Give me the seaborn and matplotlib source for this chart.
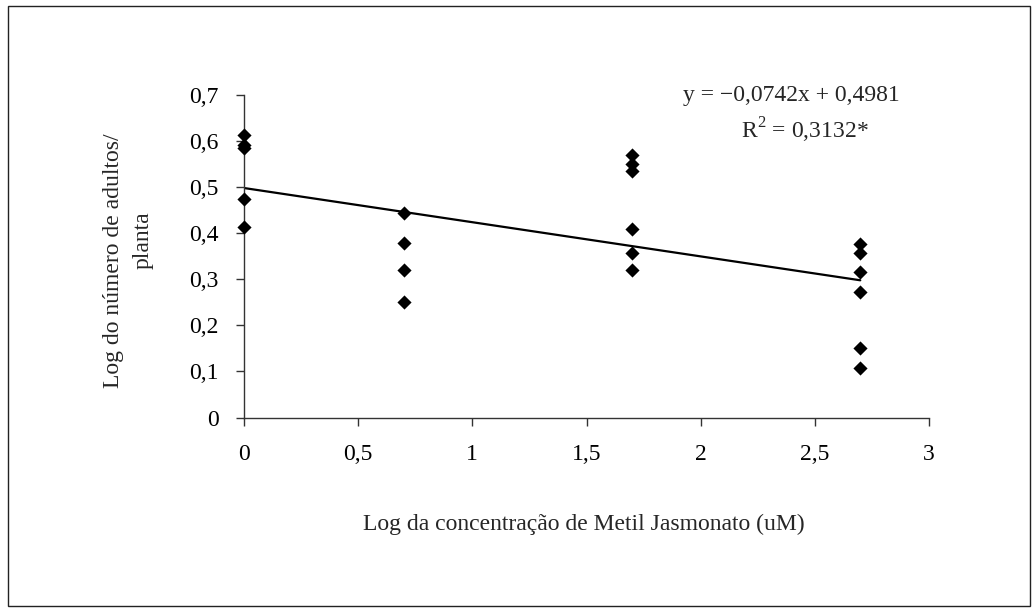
import numpy as np
import pandas as pd
import matplotlib
matplotlib.use("Agg")
import matplotlib.pyplot as plt
from matplotlib.patches import Rectangle
import seaborn as sns

# ---- data ----
x_levels = [0.0, 0.699, 1.699, 2.699]
y_at_0 = [0.613, 0.591, 0.584, 0.475, 0.414]
y_at_07 = [0.444, 0.378, 0.320, 0.251]
y_at_17 = [0.569, 0.551, 0.535, 0.410, 0.357, 0.320]
y_at_27 = [0.376, 0.356, 0.316, 0.273, 0.150, 0.108]
slope = -0.0742
intercept = 0.4981
x_ticks = [0, 0.5, 1, 1.5, 2, 2.5, 3]
x_tick_labels = ["0", "0,5", "1", "1,5", "2", "2,5", "3"]
y_ticks = [0, 0.1, 0.2, 0.3, 0.4, 0.5, 0.6, 0.7]
y_tick_labels = ["0", "0,1", "0,2", "0,3", "0,4", "0,5", "0,6", "0,7"]
eq_text = "y = \u22120,0742x + 0,4981"
r2_text = "R$^2$ = 0,3132*"
x_label = "Log da concentração de Metil Jasmonato (uM)"
y_label_1 = "Log do número de adultos/"
y_label_2 = "planta"

groups = [y_at_0, y_at_07, y_at_17, y_at_27]
xs, ys = [], []
for xv, g in zip(x_levels, groups):
    xs += [xv] * len(g)
    ys += g
df = pd.DataFrame({"x": xs, "y": ys})

fit_x = np.array([min(x_levels), max(x_levels)])
fit_df = pd.DataFrame({"x": fit_x, "y": intercept + slope * fit_x})

sns.set_style("ticks")
plt.rcParams["font.family"] = ["Liberation Serif", "DejaVu Serif"]
plt.rcParams["mathtext.fontset"] = "custom"
plt.rcParams["mathtext.rm"] = "Liberation Serif"

FS = 17
W, H = 1034, 613
fig = plt.figure(figsize=(W / 100, H / 100), dpi=100)
ax = fig.add_axes([244 / W, 1 - 417.5 / H, (929 - 244) / W, (417.5 - 95) / H])

sns.lineplot(data=fit_df, x="x", y="y", ax=ax, color="black", linewidth=1.6)
sns.scatterplot(data=df, x="x", y="y", ax=ax, marker="D", color="black",
                s=52, edgecolor="black", linewidth=0, clip_on=False, zorder=5)

ax.set_xlim(0, 3)
ax.set_ylim(0, 0.7)
ax.set_xticks(x_ticks)
ax.set_xticklabels(x_tick_labels)
ax.set_yticks(y_ticks)
ax.set_yticklabels(y_tick_labels)
ax.set_xlabel("")
ax.set_ylabel("")
for side in ["top", "right"]:
    ax.spines[side].set_visible(False)
for side in ["left", "bottom"]:
    ax.spines[side].set_color("#333333")
    ax.spines[side].set_linewidth(1.0)
ax.tick_params(axis="x", direction="out", length=6, width=1, color="#333333",
               pad=13, labelsize=FS, labelcolor="black")
ax.tick_params(axis="y", direction="out", length=6, width=1, color="#333333",
               pad=12, labelsize=FS, labelcolor="black")

fig.text(584 / W, 1 - 524 / H, x_label, ha="center", va="center", fontsize=FS)
fig.text(114 / W, 1 - 261 / H, y_label_1, ha="center", va="center",
         rotation=90, fontsize=FS)
fig.text(143 / W, 1 - 240 / H, y_label_2, ha="center", va="center",
         rotation=90, fontsize=FS)

fig.text(791 / W, 1 - 96 / H, eq_text, ha="center", va="center", fontsize=FS)
fig.text(805 / W, 1 - 130 / H, r2_text, ha="center", va="center", fontsize=FS)

fig.patches.append(Rectangle((8 / W, 1 - 606 / H), (1030 - 8) / W, (606 - 6) / H,
                             transform=fig.transFigure, fill=False,
                             edgecolor="#222222", linewidth=1.0))

fig.savefig("out.png", dpi=100, facecolor="white")
